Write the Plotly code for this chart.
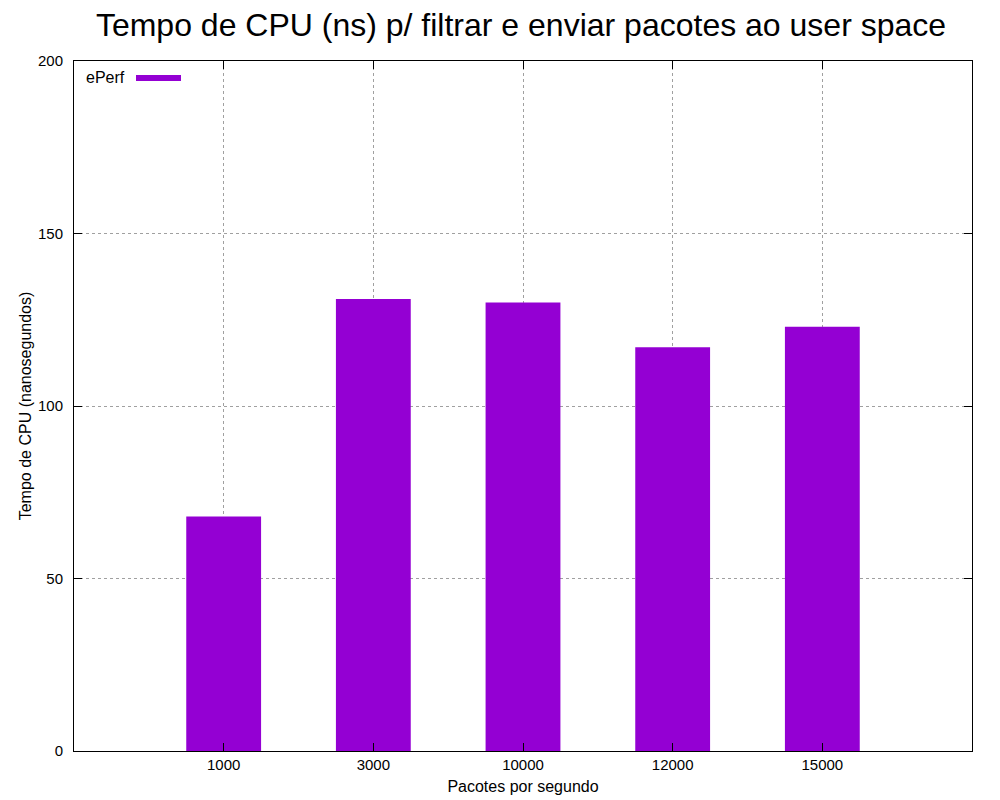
import plotly.graph_objects as go

categories = ["1000", "3000", "10000", "12000", "15000"]
values = [68, 131, 130, 117, 123]
series_name = "ePerf"
bar_color = "#9400D3"

fig = go.Figure()
fig.add_trace(go.Bar(x=categories, y=values, name=series_name, marker=dict(color=bar_color, line=dict(width=0)),
                     width=0.5, showlegend=False))

font = "Liberation Sans, Arial, sans-serif"
# page body has an 8px margin, so the figure is 992x792 and offset by 8px
fig.update_layout(
    width=992, height=792,
    margin=dict(l=66, r=28, t=53, b=49, autoexpand=False),
    paper_bgcolor="white", plot_bgcolor="white",
    font=dict(family=font, size=15, color="black"),
    title=dict(text="Tempo de CPU (ns) p/ filtrar e enviar pacotes ao user space",
               x=513 / 992, xanchor="center", xref="container", y=1 - 17 / 792, yref="container",
               yanchor="middle", font=dict(size=32, family=font, color="black")),
    xaxis=dict(type="category", range=[-1, 5], showline=True, linecolor="black", linewidth=1,
               mirror="allticks", ticks="inside", ticklen=8, tickcolor="black", automargin=False,
               showgrid=True, gridcolor="#a0a0a0", griddash="dot", gridwidth=1,
               title=dict(text="Pacotes por segundo", font=dict(size=16), standoff=8),
               tickfont=dict(size=15)),
    yaxis=dict(range=[0, 200], tickvals=[0, 50, 100, 150, 200], showline=True, linecolor="black",
               linewidth=1, mirror="allticks", ticks="inside", ticklen=8, tickcolor="black", automargin=False,
               showgrid=True, gridcolor="#a0a0a0", griddash="dot", gridwidth=1, zeroline=False,
               ticklabelstandoff=7,
               title=dict(text="Tempo de CPU (nanosegundos)", font=dict(size=16), standoff=2),
               tickfont=dict(size=15)),
)

fig.add_annotation(xref="paper", yref="paper", x=(127 - 74) / 898, y=(751 - 77) / 690,
                   text=series_name, showarrow=False, xanchor="right", yanchor="middle",
                   font=dict(size=16, family=font, color="black"))
fig.add_shape(type="rect", xref="paper", yref="paper",
              x0=(136 - 74) / 898, x1=(181 - 74) / 898,
              y0=(751 - 81) / 690, y1=(751 - 75) / 690,
              fillcolor=bar_color, line=dict(width=0))

fig.write_html("out.html")
